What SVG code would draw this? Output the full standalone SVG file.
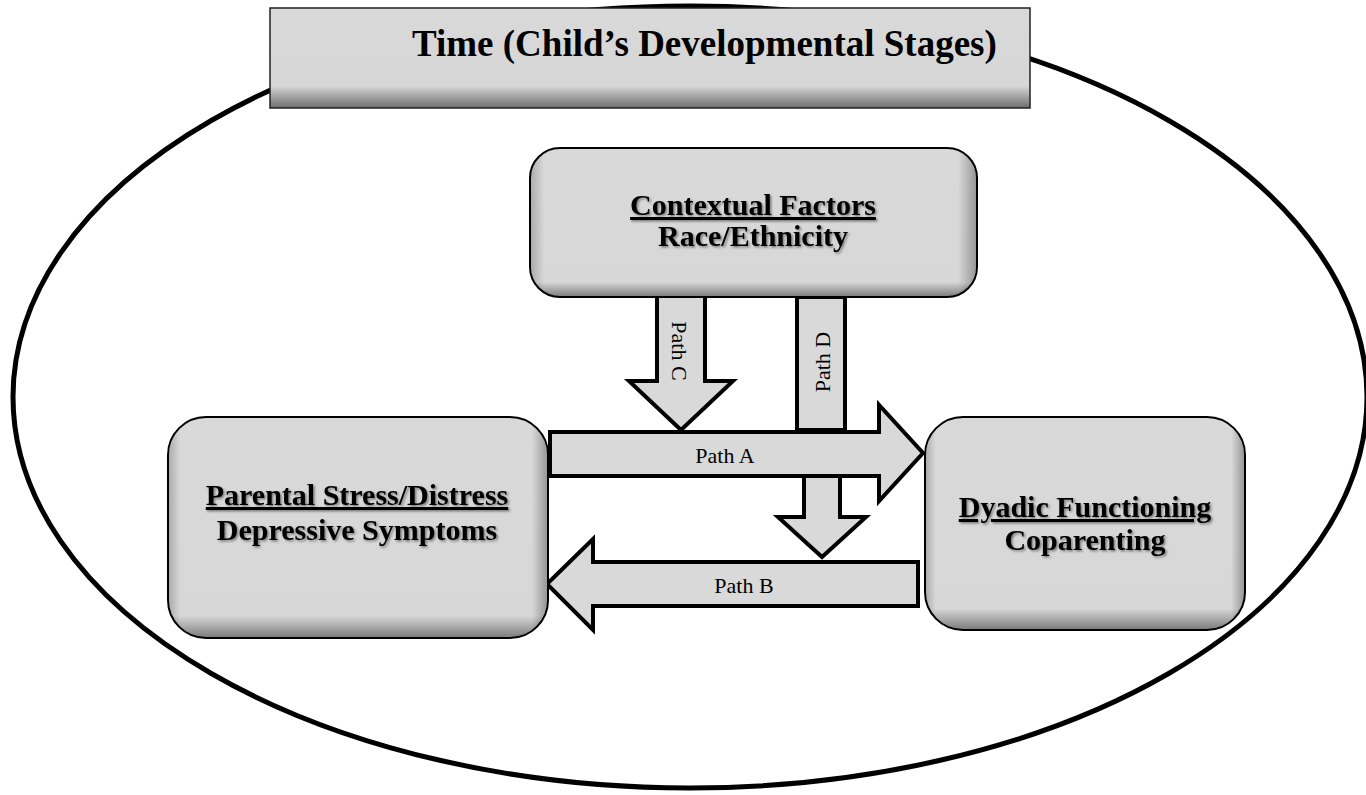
<svg xmlns="http://www.w3.org/2000/svg" width="1366" height="795" viewBox="0 0 1366 795">
<defs>
<linearGradient id="gTitle" x1="0" y1="0" x2="0" y2="1">
<stop offset="0" stop-color="#d9d9d9"/>
<stop offset="0.78" stop-color="#d6d6d6"/>
<stop offset="1" stop-color="#6e6e6e"/>
</linearGradient>
<linearGradient id="gBoxV" x1="0" y1="0" x2="0" y2="1">
<stop offset="0" stop-color="#d9d9d9"/>
<stop offset="0.9" stop-color="#d7d7d7"/>
<stop offset="1" stop-color="#7a7a7a"/>
</linearGradient>
<linearGradient id="gBoxH" x1="0" y1="0" x2="1" y2="0">
<stop offset="0" stop-color="#000" stop-opacity="0.2"/>
<stop offset="0.03" stop-color="#000" stop-opacity="0"/>
<stop offset="0.96" stop-color="#000" stop-opacity="0"/>
<stop offset="1" stop-color="#000" stop-opacity="0.3"/>
</linearGradient>
<filter id="tshadow" x="-5%" y="-20%" width="110%" height="140%">
<feDropShadow dx="1.5" dy="1.5" stdDeviation="0.8" flood-color="#000" flood-opacity="0.45"/>
</filter>
<style>
.box{stroke:#000;stroke-width:2}
.ov{fill:url(#gBoxH);stroke:none}
.lbl{font-family:"Liberation Serif","Times New Roman",serif;font-weight:bold;font-size:30px;text-anchor:middle;fill:#000}
.arr{fill:#d9d9d9;stroke:#000;stroke-width:4;stroke-linejoin:miter}
.pt{font-family:"Liberation Serif","Times New Roman",serif;font-size:22px;fill:#000;text-anchor:middle}
</style>
</defs>
<rect width="1366" height="795" fill="#fff"/>
<g id="time-ellipse">
<ellipse cx="690" cy="397" rx="677" ry="391" fill="none" stroke="#000" stroke-width="5"/>
</g>
<g id="title">
<rect x="270" y="8" width="760" height="100" fill="url(#gTitle)" stroke="#222" stroke-width="1.5"/>
<text x="412" y="56" font-family="Liberation Serif, Times New Roman, serif" font-weight="bold" font-size="37">Time (Child’s Developmental Stages)</text>
</g>
<g id="connectors">
<path class="arr" d="M657,295 L705,295 L705,381 L733,381 L681,430 L629,381 L657,381 Z"/>
<rect class="arr" x="797" y="297" width="48" height="133"/>
<path class="arr" d="M804,470 L840,470 L840,517 L866,517 L822,557 L778,517 L804,517 Z"/>
<path class="arr" d="M550,432 L879,432 L879,405 L923,453 L879,501 L879,476 L550,476 Z"/>
<path class="arr" d="M918,562 L593,562 L593,539 L547,584 L593,630 L593,606 L918,606 Z"/>
<text class="pt" transform="translate(672,351) rotate(90)">Path C</text>
<text class="pt" font-size="25" transform="translate(830,362) rotate(-90)">Path D</text>
<text class="pt" x="725" y="463">Path A</text>
<text class="pt" x="744" y="593">Path B</text>
</g>
<g id="contextual">
<rect class="box" x="530" y="148" width="447" height="149" rx="30" fill="url(#gBoxV)"/>
<rect class="ov" x="531" y="149" width="445" height="147" rx="29"/>
<text class="lbl" filter="url(#tshadow)" x="753" y="215" text-decoration="underline">Contextual Factors</text>
<text class="lbl" filter="url(#tshadow)" x="753" y="246">Race/Ethnicity</text>
</g>
<g id="parental">
<rect class="box" x="168" y="417" width="380" height="221" rx="38" fill="url(#gBoxV)"/>
<rect class="ov" x="169" y="418" width="378" height="219" rx="37"/>
<text class="lbl" filter="url(#tshadow)" x="357" y="505" text-decoration="underline">Parental Stress/Distress</text>
<text class="lbl" filter="url(#tshadow)" x="357" y="540">Depressive Symptoms</text>
</g>
<g id="dyadic">
<rect class="box" x="925" y="417" width="320" height="213" rx="38" fill="url(#gBoxV)"/>
<rect class="ov" x="926" y="418" width="318" height="211" rx="37"/>
<text class="lbl" filter="url(#tshadow)" x="1085" y="517" text-decoration="underline">Dyadic Functioning</text>
<text class="lbl" filter="url(#tshadow)" x="1085" y="550">Coparenting</text>
</g>
</svg>
